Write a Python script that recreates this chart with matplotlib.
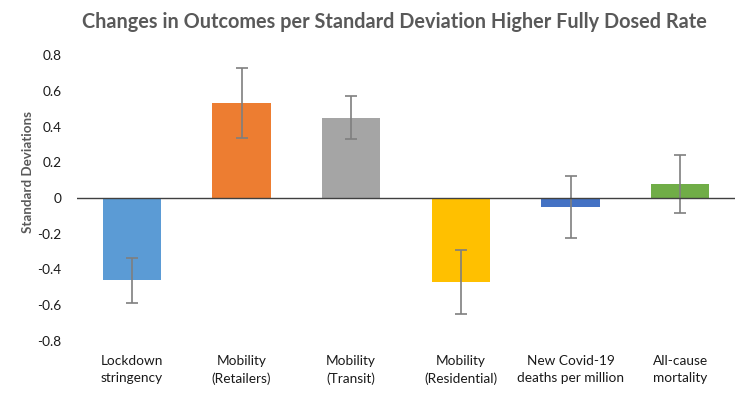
import matplotlib.pyplot as plt
import numpy as np

categories = ['Lockdown\nstringency', 'Mobility\n(Retailers)', 'Mobility\n(Transit)',
              'Mobility\n(Residential)', 'New Covid-19\ndeaths per million', 'All-cause\nmortality']
values = [-0.46, 0.53, 0.45, -0.47, -0.05, 0.08]
errors = [0.127, 0.196, 0.12, 0.18, 0.174, 0.162]
colors = ['#5B9BD5', '#ED7D31', '#A5A5A5', '#FFC000', '#4472C4', '#70AD47']
yticks = [-0.8, -0.6, -0.4, -0.2, 0, 0.2, 0.4, 0.6, 0.8]
ytick_labels = ['-0.8', '-0.6', '-0.4', '-0.2', '0', '0.2', '0.4', '0.6', '0.8']

plt.rcParams['font.family'] = ['Lato', 'DejaVu Sans']

fig = plt.figure(figsize=(7.52, 3.96), dpi=100)
ax = fig.add_axes([0.1024, 0.1389, 0.875, 0.7222])

x = np.arange(len(categories))
ax.bar(x, values, width=0.53, color=colors, zorder=2)
ax.errorbar(x, values, yerr=errors, fmt='none', ecolor='#7F7F7F', elinewidth=1.2,
            capsize=4, capthick=1.2, zorder=3)
ax.axhline(0, color='#404040', linewidth=1, zorder=4)

ax.set_xlim(-0.5, len(categories) - 0.5)
ax.set_ylim(-0.8, 0.8)
ax.set_yticks(yticks)
ax.set_yticklabels(ytick_labels)
ax.set_xticks(x)
ax.set_xticklabels(categories, linespacing=1.5)
ax.tick_params(axis='both', length=0, labelsize=9.8, colors='#1a1a1a')
ax.tick_params(axis='y', pad=11)
ax.tick_params(axis='x', pad=10)
for s in ax.spines.values():
    s.set_visible(False)

ax.set_ylabel('Standard Deviations', fontsize=9.6, fontweight='bold', color='#595959')
ax.yaxis.set_label_coords(-0.066, 0.59)

fig.text(0.525, 0.945, 'Changes in Outcomes per Standard Deviation Higher Fully Dosed Rate',
         ha='center', va='center', fontsize=14.3, fontweight='bold', color='#595959')

fig.savefig('out.png', dpi=100, facecolor='white')
